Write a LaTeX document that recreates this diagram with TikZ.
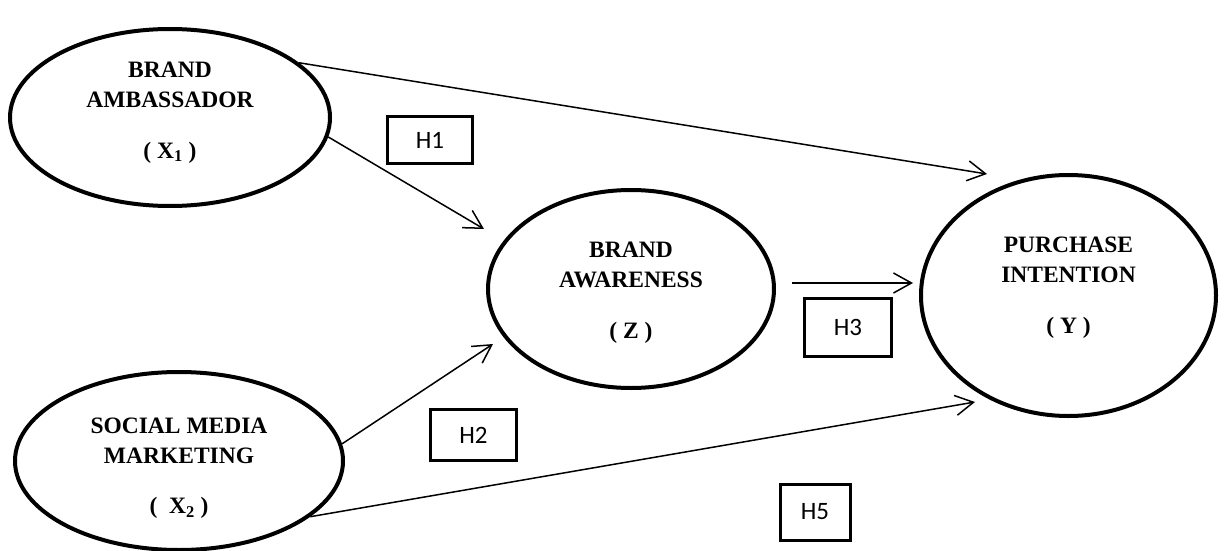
\documentclass[tikz,border=0pt]{standalone}
\usepackage{fontspec}
\setmainfont{Liberation Serif}
\newfontfamily\hypfont{Carlito}
\usetikzlibrary{arrows.meta,shapes.geometric}

\begin{document}
\begin{tikzpicture}[x=1pt,y=-1pt,
    latent/.style={draw, ellipse, line width=4pt, inner sep=0pt, align=center,
        font=\bfseries\fontsize{23.5}{30}\selectfont},
    hyp/.style={draw, line width=3pt, inner sep=0pt,
        font=\hypfont\fontsize{25}{30}\selectfont},
    link/.style={-{Straight Barb[length=18pt,width=20pt]}, line width=1.5pt}]
    \useasboundingbox (0,0) rectangle (1227,551);
    % constructs
    \node[latent, minimum width=320, minimum height=177] (ba) at (170,117.5)
        {BRAND\\AMBASSADOR\\[21pt]( X\textsubscript{1} )\rule[-15pt]{0pt}{0pt}};
    \node[latent, minimum width=328, minimum height=178] (smm) at (179,461)
        {\rule{0pt}{30pt}SOCIAL MEDIA\\MARKETING\\[20pt](~~X\textsubscript{2} )};
    \node[latent, minimum width=286, minimum height=198] (aw) at (631,289)
        {\rule{0pt}{22pt}BRAND\\AWARENESS\\[21pt]( Z )};
    \node[latent, minimum width=295, minimum height=241] (pi) at (1068.5,295.5)
        {PURCHASE\\INTENTION\\[21pt]( Y )\rule[-21pt]{0pt}{0pt}};
    % hypotheses
    \node[hyp, minimum width=85, minimum height=47] (h1) at (430,140) {H1};
    \node[hyp, minimum width=86, minimum height=51] (h2) at (473.5,435) {H2};
    \node[hyp, minimum width=87, minimum height=58] (h3) at (848,327.5) {H3};
    \node[hyp, minimum width=70, minimum height=56] (h5) at (815,512) {H5};
    % free ends of the arrows
    \coordinate (tipBaPi) at (987,174);
    \coordinate (tipBaAw) at (484,229);
    \coordinate (tailAwPi) at (792,283);
    \coordinate (tipAwPi) at (913,283);
    \coordinate (tipSmmAw) at (493,344);
    \coordinate (tipSmmPi) at (975,402);
    \draw[link] (ba.23) -- (tipBaPi);
    \draw[link] (ba.-7.5) -- (tipBaAw);
    \draw[link] (tailAwPi) -- (tipAwPi);
    \draw[link] (smm.6) -- (tipSmmAw);
    \draw[link] (smm.-23.5) -- (tipSmmPi);
\end{tikzpicture}
\end{document}
